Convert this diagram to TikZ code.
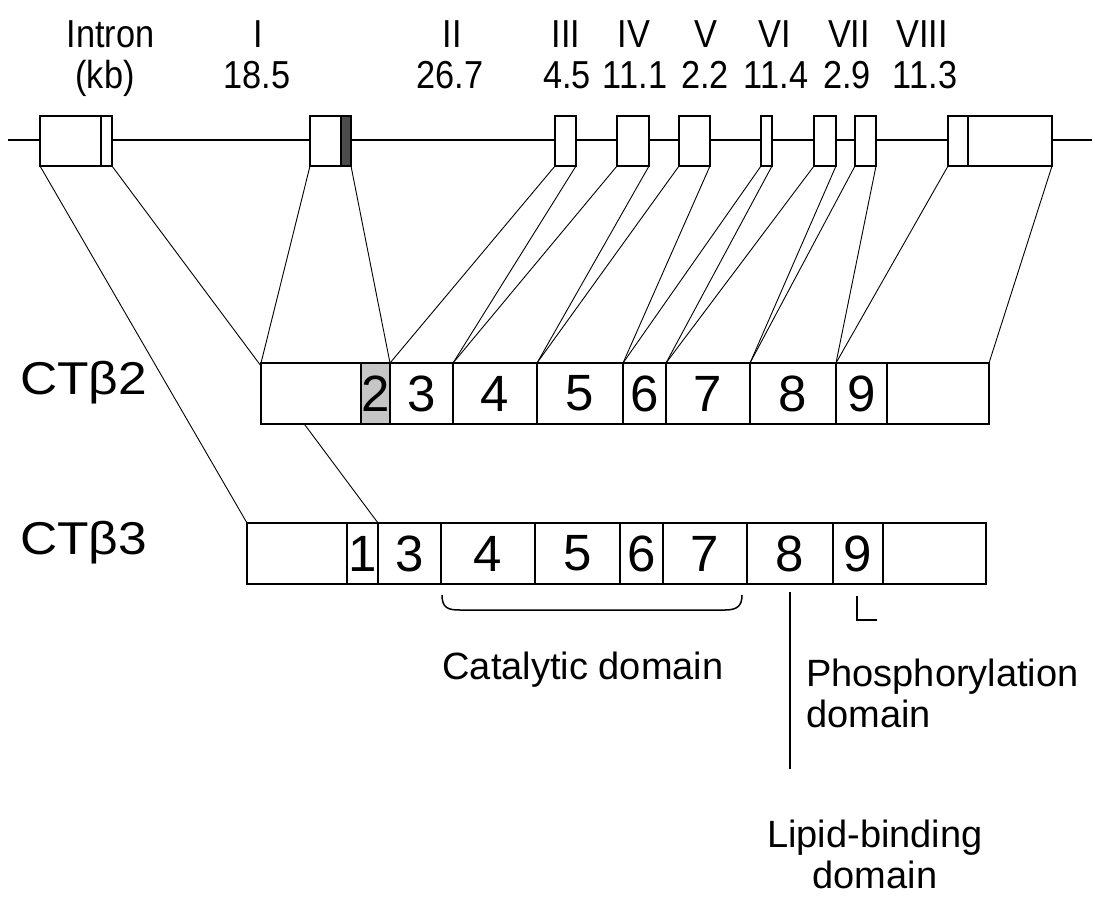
\documentclass[tikz,border=0pt]{standalone}
\usepackage{fontspec}
\setmainfont{Liberation Sans}
\newfontfamily\condfont[FakeStretch=0.88]{Liberation Sans}
\newfontfamily\widefont[FakeStretch=1.12]{Liberation Sans}
\usetikzlibrary{backgrounds}
\tikzset{
  gbox/.style={draw, line width=2.5pt, fill=white, rectangle, inner sep=0pt, outer sep=0pt, minimum height=50pt},
  mbox/.style={draw, line width=2pt, fill=white, rectangle, inner sep=0pt, outer sep=0pt, minimum height=61pt, font=\fontsize{51}{53}\selectfont},
  conn/.style={line width=0.9pt},
  hdr/.style={anchor=base, inner sep=0pt, font=\condfont\fontsize{39}{40}\selectfont},
  lbl/.style={inner sep=0pt, font=\fontsize{38}{41}\selectfont},
  rowlbl/.style={anchor=base west, inner sep=0pt, font=\widefont\fontsize{46}{48}\selectfont},
  dom/.style={line width=2pt}
}
\begin{document}
\begin{tikzpicture}[x=1pt,y=-1pt]
\useasboundingbox (0,0) rectangle (1094,900);

% header labels
\node[hdr] (hIntron) at (110.5,47) {Intron};
\node[hdr] (hkb) at (105,88) {(kb)};
\node[hdr] (h1) at (258,47) {I};
\node[hdr] (k1) at (257,88) {18.5};
\node[hdr] (h2) at (452,47) {II};
\node[hdr] (k2) at (450,88) {26.7};
\node[hdr] (h3) at (566,47) {III};
\node[hdr] (k3) at (567,88) {4.5};
\node[hdr] (h4) at (634,47) {IV};
\node[hdr] (k4) at (635,88) {11.1};
\node[hdr] (h5) at (706,47) {V};
\node[hdr] (k5) at (705,88) {2.2};
\node[hdr] (h6) at (775,47) {VI};
\node[hdr] (k6) at (776,88) {11.4};
\node[hdr] (h7) at (849,47) {VII};
\node[hdr] (k7) at (847,88) {2.9};
\node[hdr] (h8) at (922,47) {VIII};
\node[hdr] (k8) at (925,88) {11.3};

% genomic exons
\coordinate (gl) at (8,140);
\coordinate (gr) at (1092,140);
\node[gbox, minimum width=61pt] (g1a) at (70.5,141) {};
\node[gbox, minimum width=11pt] (g1b) at (106.5,141) {};
\node[gbox, minimum width=31pt] (g2a) at (325.5,141) {};
\node[gbox, minimum width=10pt, fill=black!70] (g2b) at (346,141) {};
\node[gbox, minimum width=21pt] (g3) at (565.5,141) {};
\node[gbox, minimum width=32pt] (g4) at (633,141) {};
\node[gbox, minimum width=31pt] (g5) at (694.5,141) {};
\node[gbox, minimum width=11pt] (g6) at (766.5,141) {};
\node[gbox, minimum width=22pt] (g7) at (825,141) {};
\node[gbox, minimum width=21pt] (g8) at (865.5,141) {};
\node[gbox, minimum width=20pt] (g9a) at (958,141) {};
\node[gbox, minimum width=84pt] (g9b) at (1010,141) {};

% CTbeta2
\node[rowlbl] (lab2) at (20,394) {CTβ2};
\node[mbox, minimum width=100pt] (c2a) at (311,393.5) {};
\node[mbox, minimum width=29pt, fill=gray!45] (c2n2) at (375.5,393.5) {2};
\node[mbox, minimum width=63pt] (c2n3) at (421.5,393.5) {3};
\node[mbox, minimum width=84pt] (c2n4) at (495,393.5) {4};
\node[mbox, minimum width=86pt] (c2n5) at (580,393.5) {5};
\node[mbox, minimum width=43pt] (c2n6) at (644.5,393.5) {6};
\node[mbox, minimum width=84pt] (c2n7) at (708,393.5) {7};
\node[mbox, minimum width=86pt] (c2n8) at (793,393.5) {8};
\node[mbox, minimum width=51pt] (c2n9) at (861.5,393.5) {9};
\node[mbox, minimum width=102pt] (c2e) at (938,393.5) {};

% CTbeta3
\node[rowlbl] (lab3) at (20,554) {CTβ3};
\node[mbox, minimum width=100pt] (c3a) at (297,553.5) {};
\node[mbox, minimum width=31pt] (c3n1) at (362.5,553.5) {1};
\node[mbox, minimum width=63pt] (c3n3) at (409.5,553.5) {3};
\node[mbox, minimum width=94pt] (c3n4) at (488,553.5) {4};
\node[mbox, minimum width=85pt] (c3n5) at (577.5,553.5) {5};
\node[mbox, minimum width=43pt] (c3n6) at (641.5,553.5) {6};
\node[mbox, minimum width=84pt] (c3n7) at (705,553.5) {7};
\node[mbox, minimum width=86pt] (c3n8) at (790,553.5) {8};
\node[mbox, minimum width=50pt] (c3n9) at (858,553.5) {9};
\node[mbox, minimum width=103pt] (c3e) at (934.5,553.5) {};

\begin{scope}[on background layer]
  \draw[line width=2pt] (gl) -- (gr);
  \draw[conn] (g1a.south west) -- (c3a.north west);
  \draw[conn] (g1b.south east) -- (c3n1.north east);
  \draw[conn] (g2a.south west) -- (c2a.north west);
  \draw[conn] (g2b.south east) -- (c2n2.north east);
  \draw[conn] (g3.south west) -- (c2n3.north west);
  \draw[conn] (g3.south east) -- (c2n4.north west);
  \draw[conn] (g4.south west) -- (c2n4.north west);
  \draw[conn] (g4.south east) -- (c2n5.north west);
  \draw[conn] (g5.south west) -- (c2n5.north west);
  \draw[conn] (g5.south east) -- (c2n6.north west);
  \draw[conn] (g6.south west) -- (c2n6.north west);
  \draw[conn] (g6.south east) -- (c2n7.north west);
  \draw[conn] (g7.south west) -- (c2n7.north west);
  \draw[conn] (g7.south east) -- (c2n8.north west);
  \draw[conn] (g8.south west) -- (c2n8.north west);
  \draw[conn] (g8.south east) -- (c2n9.north west);
  \draw[conn] (g9a.south west) -- (c2n9.north west);
  \draw[conn] (g9b.south east) -- (c2e.north east);
\end{scope}

% domains
\coordinate (b1) at (442,595);
\coordinate (b2) at (460,610);
\coordinate (b3) at (725,610);
\coordinate (b4) at (742,595);
\draw[line width=1.5pt] (b1) .. controls (442,608) and (448,610) .. (b2) -- (b3) .. controls (737,610) and (742,606) .. (b4);
\node[lbl, anchor=base] (cat) at (583,679) {Catalytic domain};

\coordinate (lp1) at (790,592);
\coordinate (lp2) at (790,769);
\draw[dom] (lp1) -- (lp2);
\node[lbl, align=center, anchor=base] (lip) at (875,888) {Lipid-binding\\domain};

\coordinate (ph1) at (857,596);
\coordinate (ph2) at (857,620);
\coordinate (ph3) at (877,620);
\draw[dom] (ph1) -- (ph2) -- (ph3);
\node[lbl, align=left, anchor=base west] (pho) at (806,727) {Phosphorylation\\domain};
\end{tikzpicture}
\end{document}
